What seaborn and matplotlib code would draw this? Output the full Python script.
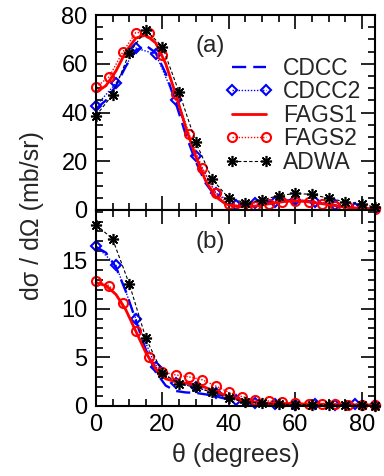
import numpy as np
import pandas as pd
import matplotlib
matplotlib.use("Agg")
import matplotlib.pyplot as plt
import seaborn as sns
from matplotlib.ticker import MultipleLocator

# ---------------- data ----------------
# smooth curves (CDCC, FAGS1) sampled every 3 degrees
theta_curve = [0, 3, 6, 9, 12, 15, 18, 21, 24, 27, 30, 33, 36, 39, 42, 45, 48,
               51, 54, 57, 60, 63, 66, 69, 72, 75, 78, 81, 84]

cdcc_a = [41.5, 45, 51, 59, 65.5, 67.5, 64.5, 56, 44, 31, 20, 11, 5.5, 2.6, 1.6,
          1.8, 2.4, 3.1, 3.6, 3.9, 4.0, 3.7, 3.2, 2.5, 1.9, 1.3, 0.8, 0.5, 0.4]
fags1_a = [48.3, 51, 57, 65, 70.5, 71.8, 68.5, 60, 47.5, 34, 22, 12, 5.5, 2.5, 1.5,
           1.3, 1.6, 2.3, 3.0, 3.5, 3.7, 3.5, 3.0, 2.4, 1.8, 1.2, 0.8, 0.6, 0.6]
cdcc_b = [16.4, 15.8, 14.3, 11.8, 8.8, 5.8, 3.5, 2.1, 1.55, 1.4, 1.35, 1.2, 1.0,
          0.75, 0.5, 0.3, 0.2, 0.15, 0.15, 0.15, 0.12, 0.1, 0.1, 0.1, 0.1, 0.1,
          0.1, 0.1, 0.1]
fags1_b = [12.7, 12.4, 11.5, 9.9, 7.7, 5.5, 3.8, 2.8, 2.5, 2.35, 2.2, 1.9, 1.5,
           1.1, 0.8, 0.55, 0.4, 0.3, 0.28, 0.26, 0.22, 0.2, 0.2, 0.18, 0.15, 0.12,
           0.1, 0.1, 0.1]

theta_cdcc2 = [0, 6, 12, 18, 24, 30, 36, 42, 48, 54, 60, 66, 72, 78, 84]
cdcc2_a = [42.7, 52, 66.4, 64, 45, 22.2, 7.1, 2.0, 3.0, 3.4, 4.1, 3.4, 2.0, 0.7, 0.4]
cdcc2_b = [16.5, 14.5, 9.0, 4.0, 2.4, 1.93, 1.31, 0.62, 0.28, 0.2, 0.15, 0.2, 0.1,
           0.2, 0.1]

theta_fags2 = [0, 4, 8, 12, 16, 20, 24, 28, 32, 36, 40, 44, 48, 52, 56, 60, 64,
               68, 72, 76, 80, 84]
fags2_a = [50.4, 54.7, 64.7, 72.8, 72.7, 63.5, 47.5, 31.3, 17.1, 7.1, 2.5, 1.1,
           1.6, 2.5, 3.4, 3.7, 3.2, 2.5, 1.8, 1.1, 0.3, 0.3]
fags2_b = [12.9, 12.4, 10.6, 7.7, 5.0, 3.5, 3.2, 3.0, 2.7, 2.07, 1.41, 0.97, 0.62,
           0.52, 0.4, 0.3, 0.25, 0.2, 0.2, 0.15, 0.1, 0.1]

theta_adwa = [0, 5, 10, 15, 20, 25, 30, 35, 40, 45, 50, 55, 60, 65, 70, 75, 80, 84]
adwa_a = [38.7, 47.3, 64.3, 73.8, 67, 48.4, 28, 12.6, 4.8, 3.0, 4.1, 5.9, 6.8, 6.4,
          4.8, 3.4, 2.5, 1.1]
adwa_b = [18.7, 17.2, 12.6, 7.0, 3.4, 2.3, 1.93, 1.41, 0.79, 0.45, 0.28, 0.2, 0.15,
          0.12, 0.1, 0.1, 0.08, 0.05]

x_ticks = [0, 20, 40, 60, 80]
ya_ticks = [0, 20, 40, 60, 80]
yb_ticks = [0, 5, 10, 15]

# ---------------- style ----------------
sns.set_style("ticks")
plt.rcParams["font.family"] = ["Liberation Sans", "DejaVu Sans"]

fig = plt.figure(figsize=(3.84, 4.76), dpi=100)
L, R = 96 / 384, 375 / 384
ax_a = fig.add_axes([L, 1 - 210 / 476, R - L, 195 / 476])
ax_b = fig.add_axes([L, 1 - 406 / 476, R - L, 196 / 476])

BLUE, RED = "#0000ff", "#ff0000"


def draw(ax, cdcc, cdcc2, fags1, fags2, adwa):
    sns.lineplot(x=theta_curve, y=cdcc, ax=ax, color=BLUE, lw=1.7,
                 linestyle=(0, (6, 3)), label="CDCC", clip_on=False)
    sns.lineplot(x=theta_cdcc2, y=cdcc2, ax=ax, color=BLUE, lw=1.0,
                 linestyle=(0, (1, 1.2)), marker="D", markersize=5.5,
                 markerfacecolor="none", markeredgecolor=BLUE,
                 markeredgewidth=1.5, label="CDCC2", clip_on=False)
    sns.lineplot(x=theta_curve, y=fags1, ax=ax, color=RED, lw=2.0,
                 linestyle="-", label="FAGS1", clip_on=False)
    sns.lineplot(x=theta_fags2, y=fags2, ax=ax, color=RED, lw=1.0,
                 linestyle=(0, (1, 1.2)), marker="o", markersize=6.5,
                 markerfacecolor="none", markeredgecolor=RED,
                 markeredgewidth=1.5, label="FAGS2", clip_on=False)
    sns.lineplot(x=theta_adwa, y=adwa, ax=ax, color="black", lw=0.8,
                 linestyle=(0, (3, 2)), marker=(8, 2, 0), markersize=8,
                 markeredgecolor="black", markeredgewidth=1.2,
                 label="ADWA", clip_on=False)


draw(ax_a, cdcc_a, cdcc2_a, fags1_a, fags2_a, adwa_a)
draw(ax_b, cdcc_b, cdcc2_b, fags1_b, fags2_b, adwa_b)

for ax in (ax_a, ax_b):
    ax.set_xlim(0, 84)
    ax.set_xticks(x_ticks)
    ax.xaxis.set_minor_locator(MultipleLocator(5))
    ax.tick_params(which="both", direction="in", top=True, right=True,
                   bottom=True, left=True, width=1.2, colors="black")
    ax.tick_params(which="major", length=10, labelsize=17, pad=6)
    ax.tick_params(which="minor", length=5)
    for s in ax.spines.values():
        s.set_linewidth(1.5)
        s.set_color("black")
    ax.set_xlabel("")
    ax.set_ylabel("")

ax_a.set_ylim(0, 80)
ax_a.set_yticks(ya_ticks)
ax_a.yaxis.set_minor_locator(MultipleLocator(5))
ax_a.tick_params(labelbottom=False)

ax_b.set_ylim(0, 20.2)
ax_b.set_yticks(yb_ticks)
ax_b.yaxis.set_minor_locator(MultipleLocator(1))
ax_b.get_legend().remove()

ax_a.legend(loc="upper left", bbox_to_anchor=(0.462, 0.785), frameon=False,
            fontsize=16.5, numpoints=2, handlelength=2.1, handletextpad=0.45,
            labelspacing=0.02, borderpad=0, borderaxespad=0)

ax_a.text(0.41, 0.84, "(a)", transform=ax_a.transAxes, fontsize=17.5,
          ha="center", va="center")
ax_b.text(0.41, 0.838, "(b)", transform=ax_b.transAxes, fontsize=17.5,
          ha="center", va="center")

ax_b.set_xlabel("θ (degrees)", fontsize=18, labelpad=5)
fig.text(32.5 / 384, 1 - 216 / 476, "dσ / dΩ (mb/sr)", rotation=90,
         fontsize=18, ha="center", va="center")

fig.savefig("out.png", dpi=100)
